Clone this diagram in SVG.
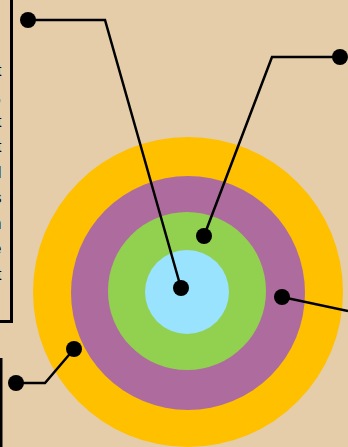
<svg xmlns="http://www.w3.org/2000/svg" width="348" height="447" viewBox="0 0 348 447">
<style>
.ln{fill:none;stroke:#000;stroke-width:2.5;stroke-linejoin:miter}
.box{fill:none;stroke:#000;stroke-width:3}
.dot{fill:#000}
.t{font-family:"Liberation Sans",Arial,sans-serif;font-size:16px;fill:#000;text-anchor:end}
</style>
<rect width="348" height="447" fill="#E5CDAA"/>
<g id="rings">
<circle cx="188" cy="292" r="155" fill="#FFC000"/>
<circle cx="188" cy="293" r="117" fill="#AE6C9E"/>
<circle cx="187" cy="291" r="79" fill="#92D050"/>
<circle cx="187" cy="292" r="42" fill="#99E3FF"/>
</g>
<g id="textbox">
<path class="box" d="M11.5 0 V321.5 H0"/>
<text class="t" x="1.5" y="76">t</text>
<text class="t" x="1.5" y="101">,</text>
<text class="t" x="1.5" y="127">t</text>
<text class="t" x="1.5" y="152">t</text>
<text class="t" x="1.5" y="178">d</text>
<text class="t" x="1.5" y="203">s</text>
<text class="t" x="1.5" y="229">n</text>
<text class="t" x="1.5" y="254">e</text>
<text class="t" x="1.5" y="280">t</text>
</g>
<g id="box2">
<path class="box" d="M1 358 V447"/>
</g>
<g id="connectors">
<path class="ln" d="M28 20 H105 L181 288"/>
<path class="ln" d="M340 57 H272 L204 236"/>
<path class="ln" d="M282 297 L348 311"/>
<path class="ln" d="M16 383 H45 L74 349"/>
</g>
<g id="dots">
<circle class="dot" cx="28" cy="20" r="8"/>
<circle class="dot" cx="340" cy="57" r="8"/>
<circle class="dot" cx="204" cy="236" r="8"/>
<circle class="dot" cx="181" cy="288" r="8"/>
<circle class="dot" cx="282" cy="297" r="8"/>
<circle class="dot" cx="74" cy="349" r="8"/>
<circle class="dot" cx="16" cy="383" r="8"/>
</g>
</svg>
